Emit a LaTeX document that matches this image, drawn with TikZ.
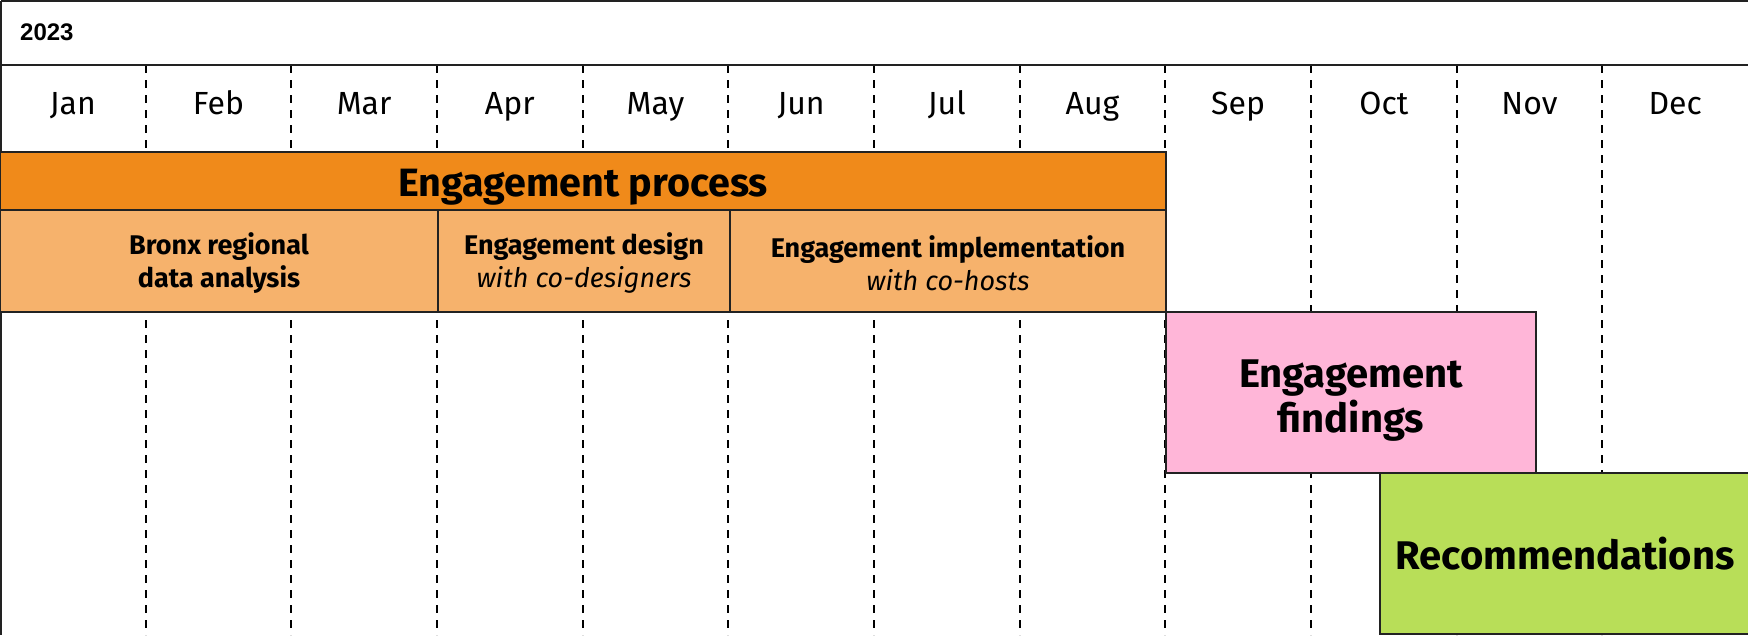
\documentclass[tikz,border=0pt]{standalone}
\usepackage{fontspec}
\setmainfont{Fira Sans}
\newfontfamily\yearfont{Liberation Sans}
\definecolor{orangeD}{HTML}{F08A1A}
\definecolor{orangeL}{HTML}{F6B26C}
\definecolor{pinkF}{HTML}{FFB6D8}
\definecolor{greenR}{HTML}{B8DE58}
\definecolor{lineK}{HTML}{222222}
\tikzset{
  frame/.style={draw=lineK, line width=2pt},
  grid/.style={draw=black, line width=2pt, dash pattern=on 8pt off 7pt},
  box/.style={draw=lineK, line width=2pt, anchor=north west, inner sep=0pt, outer sep=0pt, align=center},
  month/.style={font=\fontsize{32}{36}\selectfont, anchor=base},
  bandtxt/.style={font=\fontsize{27}{33}\selectfont, align=center},
  bigtxt/.style={font=\fontsize{40}{45}\selectfont\bfseries, align=center},
}
\begin{document}
\begin{tikzpicture}[x=1pt,y=-1pt]
\useasboundingbox (0,0) rectangle (1748,635);
\fill[white] (0,0) rectangle (1748,635);
% dashed month grid
\foreach \i in {1,...,11} {
  \coordinate (gt\i) at ({\i*145.667},65);
  \coordinate (gb\i) at ({\i*145.667},635);
  \draw[grid] (gt\i) -- (gb\i);
}
% frame lines
\coordinate (tl) at (1,1);
\coordinate (tr) at (1748,1);
\coordinate (bl) at (1,635);
\coordinate (ml) at (0,65);
\coordinate (mr) at (1748,65);
\draw[frame] (tl) -- (tr);
\draw[frame] (tl) -- (bl);
\draw[frame] (ml) -- (mr);
% year
\node[anchor=base west, inner sep=0pt, font=\yearfont\fontsize{24}{26}\selectfont\bfseries] (year) at (20,40) {2023};
% months
\foreach \m [count=\i from 0] in {Jan,Feb,Mar,Apr,May,Jun,Jul,Aug,Sep,Oct,Nov,Dec} {
  \node[month] (m\i) at ({(\i+0.5)*145.667},114) {\m};
}
% engagement process
\node[box, fill=orangeD, minimum width=1166pt, minimum height=58pt] (ep) at (0,152) {};
\node[anchor=base, font=\fontsize{39.5}{42}\selectfont\bfseries] (ept) at (583,196) {Engagement process};
\node[box, fill=orangeL, minimum width=438pt, minimum height=102pt] (b1) at (0,210) {};
\node[box, fill=orangeL, minimum width=292pt, minimum height=102pt] (b2) at (438,210) {};
\node[box, fill=orangeL, minimum width=436pt, minimum height=102pt] (b3) at (730,210) {};
\node[bandtxt] (t1) at ([yshift=-2pt]b1.center) {\bfseries Bronx regional\\\bfseries data analysis};
\node[bandtxt] (t2) at ([yshift=-2pt]b2.center) {\bfseries Engagement design\\\itshape with co-designers};
\node[bandtxt] (t3) at ([yshift=-2pt]b3.center) {\bfseries Engagement implementation\\\itshape with co-hosts};
% findings
\node[box, fill=pinkF, minimum width=370pt, minimum height=161pt] (pf) at (1166,312) {};
\node[bigtxt] (pft) at ([yshift=-8pt]pf.center) {Engagement\\findings};
% recommendations
\node[box, fill=greenR, minimum width=370pt, minimum height=161pt] (rc) at (1380,473) {};
\node[bigtxt] (rct) at (rc.center) {Recommendations};
\end{tikzpicture}
\end{document}
